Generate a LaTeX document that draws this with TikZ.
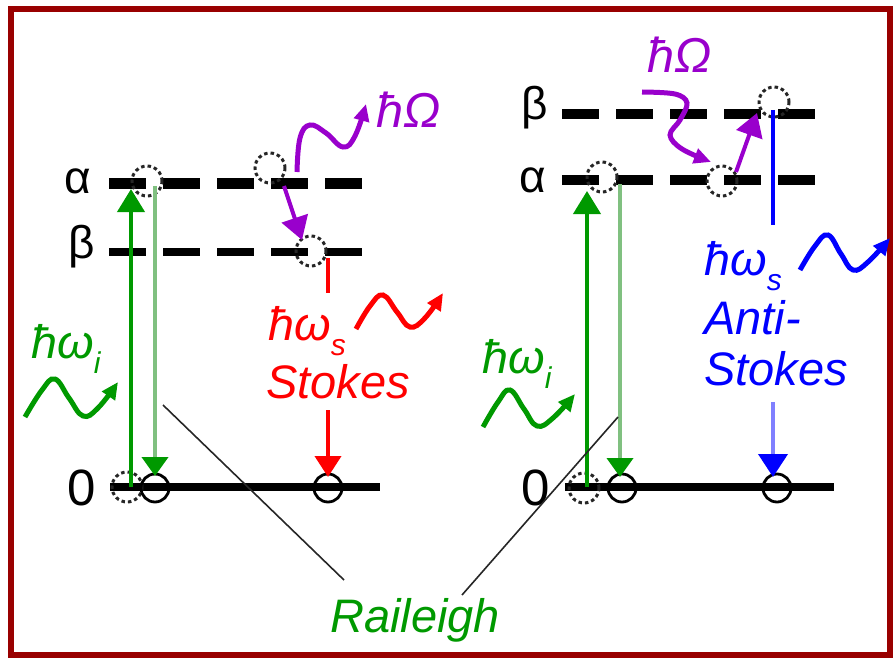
\documentclass[tikz,border=0pt]{standalone}
\usepackage{fontspec}
\setmainfont{Liberation Sans}
\usetikzlibrary{arrows.meta}
\definecolor{bord}{HTML}{990000}
\definecolor{gdark}{HTML}{009900}
\definecolor{glight}{HTML}{80C080}
\definecolor{purp}{HTML}{9900CC}
\definecolor{rred}{HTML}{FF0000}
\definecolor{bblue}{HTML}{0000FF}
\definecolor{blight}{HTML}{8080FF}
\tikzset{
  lvlA/.style={line width=11pt, dash pattern=on 37pt off 17pt},
  lvlB/.style={line width=8pt, dash pattern=on 37pt off 17pt},
  ground/.style={line width=8pt},
  dcirc/.style={circle, draw=black!85, line width=3pt, dash pattern=on 3.5pt off 3pt, minimum size=30pt, inner sep=0pt},
  scirc/.style={circle, draw=black, line width=2.8pt, minimum size=28pt, inner sep=0pt},
  bigtip/.style={-{Triangle[length=23pt,width=27pt]}},
  wavetip/.style={-{Triangle[length=17pt,width=15pt]}},
  lab/.style={font=\fontsize{47}{50}\selectfont\itshape, anchor=base west, inner sep=0pt},
  lvllab/.style={font=\fontsize{46}{50}\selectfont, anchor=base west, inner sep=0pt},
}
\newcommand{\subx}[1]{\raisebox{-0.32em}{\fontsize{30}{30}\selectfont #1}}
\begin{document}
\begin{tikzpicture}[x=1pt,y=-1pt]
\useasboundingbox (0,0) rectangle (893,658);
\draw[bord, line width=6pt] (11,9) rectangle (890,655);

% ---------- left diagram ----------
\node[lvllab] (La) at (64,193) {α};
\node[lvllab] (Lb) at (68,258) {β};
\node[lvllab, font=\fontsize{51}{50}\selectfont] (L0) at (67,505) {0};
\draw[lvlA] (109,183) -- (363,183);
\draw[lvlB] (109,252) -- (363,252);
\draw[ground] (110,487) -- (380,487);

\node[dcirc] (cLa) at (147,181) {};
\node[dcirc] (cLv) at (270,168) {};
\node[dcirc] (cLb) at (311,251) {};
\node[dcirc] (cLg0) at (127,487) {};
\node[scirc] (cLg1) at (155,488) {};
\node[scirc] (cLg2) at (328,488) {};

\coordinate (Lu0) at (131,487);
\coordinate (Lu1) at (131,189);
\draw[gdark, line width=4pt, bigtip] (Lu0) -- (Lu1);
\coordinate (Ld0) at (155,186);
\coordinate (Ld1) at (155,476);
\draw[glight, line width=4pt, -{Triangle[length=19pt,width=26pt,color=gdark]}] (Ld0) -- (Ld1);

\coordinate (Lp0) at (284,186);
\coordinate (Lp1) at (302,240);
\draw[purp, line width=4pt, bigtip] (Lp0) -- (Lp1);
\draw[purp, line width=5pt, wavetip] plot[smooth, tension=0.7] coordinates {(297,172) (300,138) (310,125) (326,133) (343,147) (355,136) (366,104)};
\node[lab, purp, font=\fontsize{49}{50}\selectfont\itshape] (LOm) at (376,128) {ħΩ};

\coordinate (Lr0) at (328,258);
\coordinate (Lr1) at (328,293);
\draw[rred, line width=4pt] (Lr0) -- (Lr1);
\node[lab, rred] (Lws) at (268,340) {ħω\subx{s}};
\draw[rred, line width=5pt, wavetip] plot[smooth, tension=0.7] coordinates {(356,329) (370,306) (383,295) (397,312) (410,327) (425,318) (443,293)};
\node[lab, rred] (LSt) at (266,398) {Stokes};
\coordinate (Lr2) at (328,410);
\coordinate (Lr3) at (328,477);
\draw[rred, line width=4pt, -{Triangle[length=21pt,width=26pt]}] (Lr2) -- (Lr3);

\node[lab, gdark] (Lwi) at (31,358) {ħω\subx{i}};
\draw[gdark, line width=5pt, wavetip] plot[smooth, tension=0.7] coordinates {(25,417) (42,390) (55,379) (69,398) (83,416) (98,408) (118,382)};

% ---------- right diagram ----------
\node[lvllab] (Rb) at (521,120) {β};
\node[lvllab] (Ra) at (519,192) {α};
\node[lvllab, font=\fontsize{51}{50}\selectfont] (R0) at (521,505) {0};
\draw[lvlB, line width=9pt] (562,114) -- (816,114);
\draw[lvlA, line width=10pt] (562,180) -- (816,180);
\draw[ground] (565,487) -- (834,487);

\node[dcirc] (cRa) at (602,177) {};
\node[dcirc] (cRv) at (722,181) {};
\node[dcirc] (cRb) at (774,102) {};
\node[dcirc] (cRg0) at (584,488) {};
\node[scirc] (cRg1) at (622,488) {};
\node[scirc] (cRg2) at (777,488) {};

\coordinate (Ru0) at (587,487);
\coordinate (Ru1) at (587,191);
\draw[gdark, line width=4pt, bigtip] (Ru0) -- (Ru1);
\coordinate (Rd0) at (620,184);
\coordinate (Rd1) at (620,477);
\draw[glight, line width=4pt, -{Triangle[length=19pt,width=26pt,color=gdark]}] (Rd0) -- (Rd1);

\node[lab, purp, font=\fontsize{49}{50}\selectfont\itshape] (ROm) at (647,73) {ħΩ};
\draw[purp, line width=5pt, wavetip] plot[smooth, tension=0.6] coordinates {(642,92) (675,94) (687,103) (680,120) (670,135) (682,149) (711,162)};
\coordinate (Rp0) at (736,172);
\coordinate (Rp1) at (757,113);
\draw[purp, line width=4pt, bigtip] (Rp0) -- (Rp1);

\coordinate (Rbl0) at (773,110);
\coordinate (Rbl1) at (773,225);
\draw[bblue, line width=4pt] (Rbl0) -- (Rbl1);
\node[lab, bblue] (Rws) at (704,275) {ħω\subx{s}};
\draw[bblue, line width=5pt, wavetip] plot[smooth, tension=0.7] coordinates {(800,270) (815,246) (828,235) (841,254) (853,270) (868,262) (890,238)};
\node[lab, bblue] (RAn) at (704,334) {Anti-};
\node[lab, bblue] (RSt) at (704,385) {Stokes};
\coordinate (Rbl2) at (773,402);
\coordinate (Rbl3) at (773,477);
\draw[blight, line width=4pt, -{Triangle[length=23pt,width=29pt,color=bblue]}] (Rbl2) -- (Rbl3);

\node[lab, gdark] (Rwi) at (482,373) {ħω\subx{i}};
\draw[gdark, line width=5pt, wavetip] plot[smooth, tension=0.7] coordinates {(483,427) (498,402) (510,390) (524,409) (537,426) (553,418) (575,394)};

% ---------- Raileigh ----------
\node[lab, gdark] (Rail) at (330,632) {Raileigh};
\coordinate (Rl0) at (163,405);
\coordinate (Rl1) at (344,580);
\coordinate (Rl2) at (618,417);
\coordinate (Rl3) at (462,595);
\draw[black!85, line width=1.6pt] (Rl0) -- (Rl1);
\draw[black!85, line width=1.6pt] (Rl2) -- (Rl3);
\end{tikzpicture}
\end{document}
